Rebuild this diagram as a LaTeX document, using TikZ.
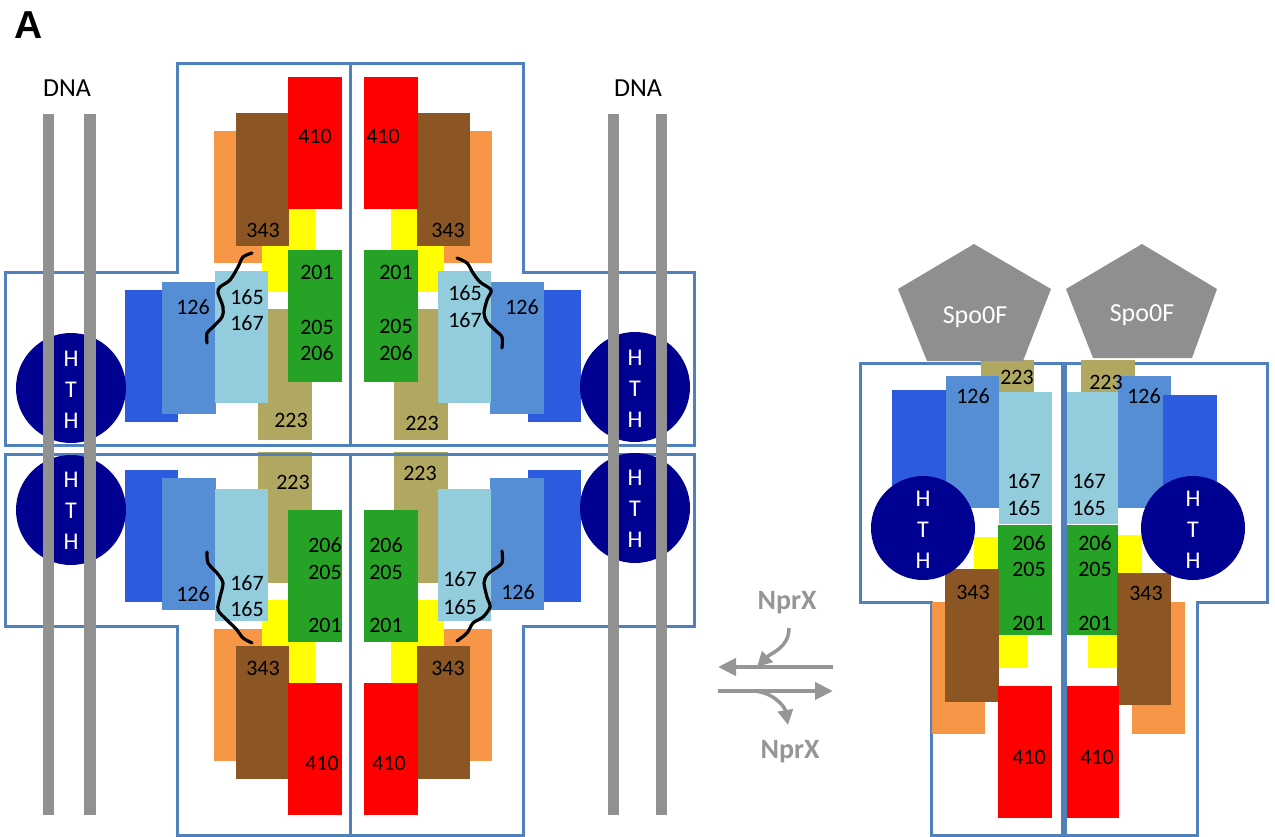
\documentclass[tikz,border=0pt]{standalone}
\usepackage{fontspec}
\setmainfont{Carlito}
\newfontfamily\headfont{Liberation Sans}
\usetikzlibrary{arrows.meta}

\definecolor{outblue}{RGB}{79,129,189}
\definecolor{dnagray}{RGB}{145,145,145}
\definecolor{hthnavy}{RGB}{0,0,145}
\definecolor{dblue}{RGB}{44,91,223}
\definecolor{mblue}{RGB}{85,142,213}
\definecolor{lblue}{RGB}{147,205,221}
\definecolor{olivedom}{RGB}{176,168,96}
\definecolor{gdom}{RGB}{38,163,38}
\definecolor{ydom}{RGB}{255,255,0}
\definecolor{odom}{RGB}{247,150,70}
\definecolor{bdom}{RGB}{139,86,35}
\definecolor{rdom}{RGB}{255,0,0}
\definecolor{spogray}{RGB}{143,143,143}
\definecolor{arrgray}{RGB}{150,150,150}

\tikzset{
  num/.style={font=\fontsize{22}{22}\selectfont, inner sep=0pt},
  hth/.style={font=\fontsize{24}{31}\selectfont, text=white, align=center, inner sep=0pt},
  mono/.style={draw=outblue, line width=3pt},
  kink/.style={line width=3.2pt, line cap=round},
  nprx/.style={arrgray, line width=4pt, -{Triangle[length=18pt,width=17pt]}},
  nprxbend/.style={arrgray, line width=3.5pt, -{Triangle[length=15pt,width=15pt]}},
  nprxlabel/.style={font=\bfseries\fontsize{28}{28}\selectfont, text=arrgray, inner sep=0pt},
  spo/.style={font=\fontsize{26}{26}\selectfont, text=white, inner sep=0pt}
}

% one response-regulator monomer of the DNA-bound tetramer (top left copy)
\newcommand{\rrdomains}{%
  \fill[odom] (214,131) rectangle (262,263);
  \fill[ydom] (262,209) rectangle (315,292);
  \fill[bdom] (236,113) rectangle (289,246);
  \fill[rdom] (288,77) rectangle (342,209);
  \fill[olivedom] (258,309) rectangle (312,440);
  \fill[gdom] (288,250) rectangle (342,382);
  \fill[dblue] (125,290) rectangle (178,422);
  \fill[mblue] (162,282) rectangle (216,414);
  \fill[lblue] (215,271) rectangle (268,403);
}

\begin{document}
\begin{tikzpicture}[x=1pt,y=-1pt]
\useasboundingbox (0,0) rectangle (1275,837);

\node[font=\headfont\bfseries\fontsize{39}{39}\selectfont, inner sep=0pt] (panel) at (29,25) {A};

% tetramer on DNA
\rrdomains
\begin{scope}[shift={(706,0)}, xscale=-1] \rrdomains \end{scope}
\begin{scope}[shift={(0,892)}, yscale=-1] \rrdomains \end{scope}
\begin{scope}[shift={(706,892)}, xscale=-1, yscale=-1] \rrdomains \end{scope}

\draw[mono] (5,273) -- (177,273) -- (177,64) -- (350,64) -- (350,445) -- (5,445) -- cycle;
\draw[mono] (350,64) -- (523,64) -- (523,273) -- (694,273) -- (694,445) -- (350,445) -- cycle;
\draw[mono] (5,454) -- (350,454) -- (350,835) -- (177,835) -- (177,626) -- (5,626) -- cycle;
\draw[mono] (350,454) -- (694,454) -- (694,626) -- (523,626) -- (523,835) -- (350,835) -- cycle;

\fill[hthnavy] (71,388) circle[radius=55];
\fill[hthnavy] (635,387) circle[radius=55];
\fill[hthnavy] (71,510) circle[radius=55];
\fill[hthnavy] (635,508) circle[radius=55];

\fill[dnagray] (43,114) rectangle (54,815);
\fill[dnagray] (84,114) rectangle (96,815);
\fill[dnagray] (608,114) rectangle (619,815);
\fill[dnagray] (656,114) rectangle (667,815);
\node[font=\fontsize{26}{26}\selectfont, inner sep=0pt] (dnaL) at (67,88) {DNA};
\node[font=\fontsize{26}{26}\selectfont, inner sep=0pt] (dnaR) at (638,88) {DNA};

\node[hth] (hthTL) at (71,390) {H\\T\\H};
\node[hth] (hthTR) at (635,389) {H\\T\\H};
\node[hth] (hthBL) at (71,511) {H\\T\\H};
\node[hth] (hthBR) at (635,509) {H\\T\\H};

% linkers
\draw[kink] plot[smooth] coordinates {(252,253) (243,257) (238,267) (230,280) (220,287) (218,293) (223,307) (222,317) (213,327) (207,333) (207,343)};
\draw[kink] plot[smooth] coordinates {(457,258) (467,263) (473,273) (480,282) (491,290) (487,300) (484,313) (487,322) (495,330) (502,337) (502,348)};
\draw[kink] plot[smooth] coordinates {(207,552) (208,563) (217,573) (223,583) (220,597) (218,610) (227,620) (237,630) (243,638) (252,643)};
\draw[kink] plot[smooth] coordinates {(502,551) (502,563) (493,570) (487,575) (484,583) (487,597) (490,607) (483,617) (473,623) (467,633) (457,641)};

\node[num] (tl410) at (315,136) {410};
\node[num] (tl343) at (263,230) {343};
\node[num] (tl201) at (317,272) {201};
\node[num] (tl205) at (317,327) {205};
\node[num] (tl206) at (317,353) {206};
\node[num] (tl165) at (247,297) {165};
\node[num] (tl167) at (247,323) {167};
\node[num] (tl126) at (193,307) {126};
\node[num] (tl223) at (291,420) {223};

\node[num] (tr410) at (383,136) {410};
\node[num] (tr343) at (448,230) {343};
\node[num] (tr201) at (396,272) {201};
\node[num] (tr205) at (396,326) {205};
\node[num] (tr206) at (396,353) {206};
\node[num] (tr165) at (465,293) {165};
\node[num] (tr167) at (465,320) {167};
\node[num] (tr126) at (522,307) {126};
\node[num] (tr223) at (422,423) {223};

\node[num] (bl223) at (293,482) {223};
\node[num] (bl206) at (325,545) {206};
\node[num] (bl205) at (325,572) {205};
\node[num] (bl201) at (325,625) {201};
\node[num] (bl167) at (247,583) {167};
\node[num] (bl165) at (247,609) {165};
\node[num] (bl126) at (193,594) {126};
\node[num] (bl343) at (263,668) {343};
\node[num] (bl410) at (322,763) {410};

\node[num] (br223) at (420,473) {223};
\node[num] (br206) at (386,545) {206};
\node[num] (br205) at (386,572) {205};
\node[num] (br201) at (386,625) {201};
\node[num] (br167) at (460,579) {167};
\node[num] (br165) at (460,607) {165};
\node[num] (br126) at (518,592) {126};
\node[num] (br343) at (448,668) {343};
\node[num] (br410) at (389,763) {410};

% NprX equilibrium
\coordinate (fwdR) at (833,667);
\coordinate (fwdL) at (718,667);
\coordinate (revL) at (718,691);
\coordinate (revR) at (833,691);
\draw[nprx] (fwdR) -- (fwdL);
\draw[nprx] (revL) -- (revR);
\node[nprxlabel] (nprxIn) at (787,603) {NprX};
\node[nprxlabel] (nprxOut) at (790,752) {NprX};
\coordinate (inStart) at (789,628);
\coordinate (inEnd) at (757,667);
\coordinate (outStart) at (752,691);
\coordinate (outEnd) at (788,725);
\draw[nprxbend] (inStart) to[out=-90,in=45] (inEnd);
\draw[nprxbend] (outStart) to[out=0,in=100] (outEnd);

% Spo0F-bound dimer
\draw[mono] (860,363) -- (1062,363) -- (1062,835) -- (931,835) -- (931,602) -- (860,602) -- cycle;
\draw[mono] (1065,363) -- (1267,363) -- (1267,602) -- (1197,602) -- (1197,835) -- (1065,835) -- cycle;

\fill[olivedom] (981,360) rectangle (1034,392);
\fill[dblue] (892,390) rectangle (947,520);
\fill[mblue] (946,376) rectangle (999,508);
\fill[lblue] (999,392) rectangle (1052,524);
\fill[ydom] (974,537) rectangle (1028,668);
\fill[gdom] (998,525) rectangle (1052,635);
\fill[odom] (932,602) rectangle (985,734);
\fill[bdom] (945,569) rectangle (999,702);
\fill[rdom] (998,686) rectangle (1052,818);
\fill[hthnavy] (923,528) circle[radius=52];

\fill[olivedom] (1081,360) rectangle (1135,392);
\fill[lblue] (1067,392) rectangle (1118,524);
\fill[mblue] (1118,376) rectangle (1171,508);
\fill[dblue] (1163,395) rectangle (1217,520);
\fill[ydom] (1088,535) rectangle (1142,668);
\fill[gdom] (1067,525) rectangle (1118,635);
\fill[odom] (1132,602) rectangle (1185,734);
\fill[bdom] (1117,573) rectangle (1171,705);
\fill[rdom] (1067,686) rectangle (1119,818);
\fill[hthnavy] (1193,528) circle[radius=52];

\node[hth] (hthRL) at (923,530) {H\\T\\H};
\node[hth] (hthRR) at (1193,530) {H\\T\\H};

\fill[spogray] (974,244) -- (1051,289) -- (1023,361) -- (927,361) -- (898,289) -- cycle;
\fill[spogray] (1142,244) -- (1217,289) -- (1192,358) -- (1093,358) -- (1066,289) -- cycle;
\node[spo] (spoL) at (975,317) {Spo0F};
\node[spo] (spoR) at (1142,315) {Spo0F};

\node[num] (rl223) at (1017,377) {223};
\node[num] (rl126) at (973,396) {126};
\node[num] (rl167) at (1024,481) {167};
\node[num] (rl165) at (1024,508) {165};
\node[num] (rl206) at (1029,543) {206};
\node[num] (rl205) at (1029,569) {205};
\node[num] (rl201) at (1029,623) {201};
\node[num] (rl343) at (973,592) {343};
\node[num] (rl410) at (1029,757) {410};

\node[num] (rr223) at (1106,382) {223};
\node[num] (rr126) at (1144,396) {126};
\node[num] (rr167) at (1089,481) {167};
\node[num] (rr165) at (1089,508) {165};
\node[num] (rr206) at (1095,543) {206};
\node[num] (rr205) at (1095,569) {205};
\node[num] (rr201) at (1095,623) {201};
\node[num] (rr343) at (1146,593) {343};
\node[num] (rr410) at (1097,757) {410};
\end{tikzpicture}
\end{document}
